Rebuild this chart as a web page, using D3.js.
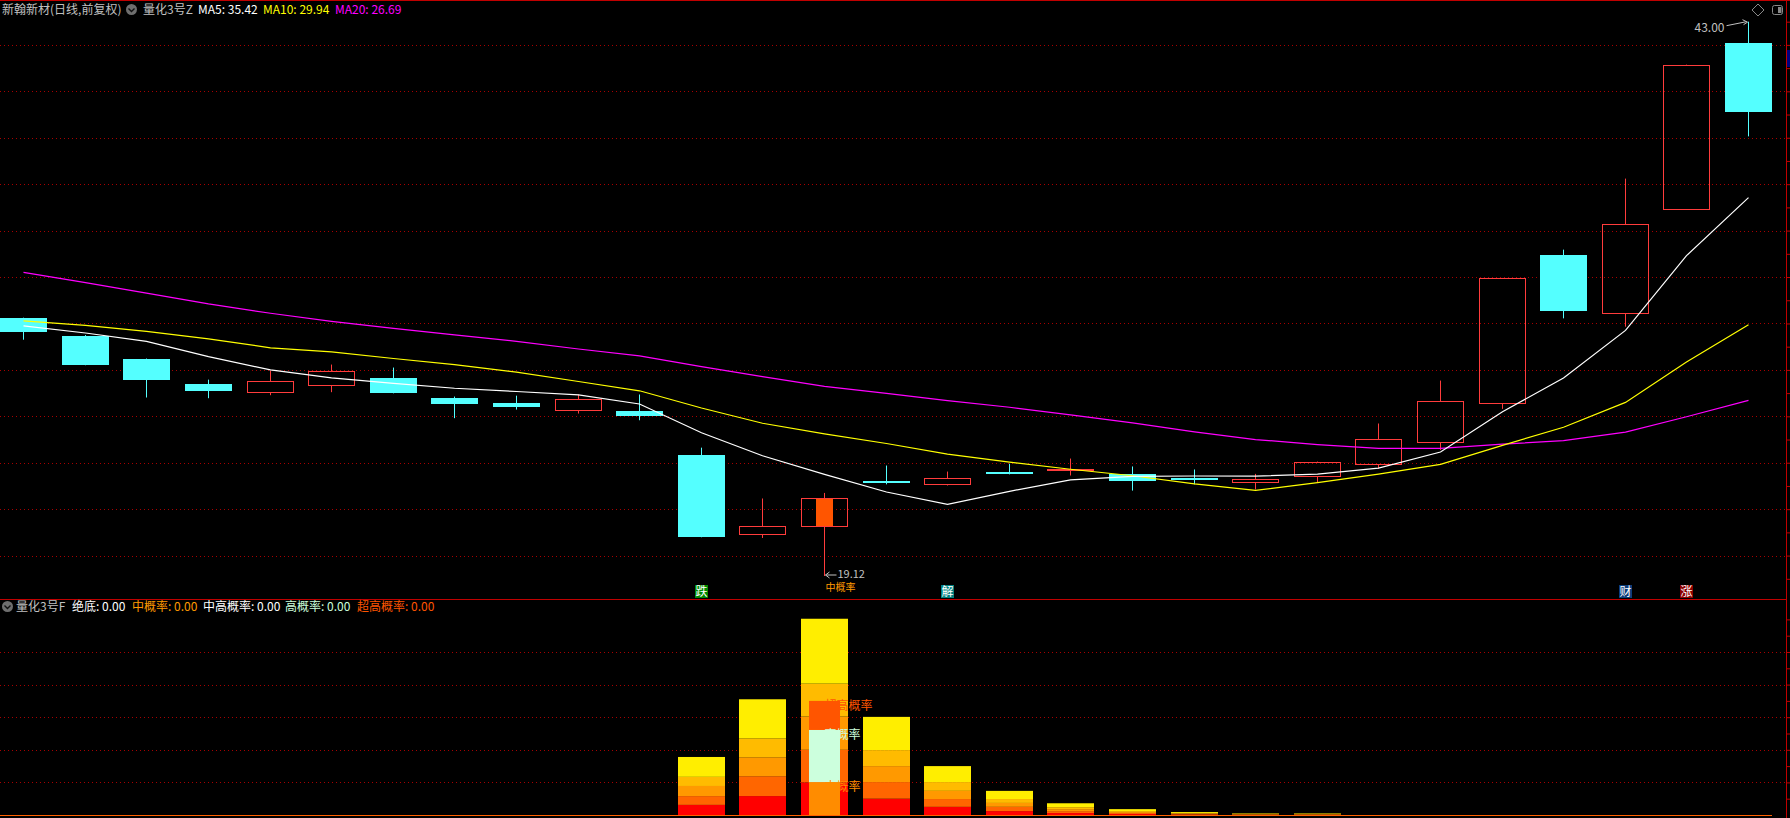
<!DOCTYPE html>
<html>
<head>
<meta charset="utf-8">
<script src="https://cdn.jsdelivr.net/npm/d3@7/dist/d3.min.js"></script>
<style>
    body {margin: 0; background: #000; overflow: hidden;}
    text {font-family: "Noto Sans CJK SC", "DejaVu Sans", sans-serif; font-size: 12px;}
</style>
</head>
<body>
<script>

// daily candles, 29 sessions
var days = d3.range(29);
var opens  = [30.25, 29.45, 28.49, 27.41, 27.04, 27.34, 27.67, 26.81, 26.59, 26.26, 26.25, 24.35, 20.94, 21.28, 23.23,
              23.07, 23.62, 23.71, 23.53, 23.36, 23.16, 23.42, 23.95, 24.89, 26.58, 32.97, 30.44, 34.92, 42.10];
var highs  = [30.25, 29.50, 28.49, 27.58, 27.97, 28.23, 28.10, 26.85, 26.89, 26.94, 26.94, 24.65, 22.46, 22.70, 23.88,
              23.62, 23.96, 24.18, 23.84, 23.71, 23.52, 24.05, 25.69, 27.54, 31.96, 33.18, 36.24, 41.15, 43.00];
var lows   = [29.30, 28.20, 26.81, 26.78, 26.91, 27.04, 26.99, 25.92, 26.29, 26.12, 25.83, 20.79, 20.76, 19.12, 23.07,
              23.02, 23.50, 23.45, 22.80, 23.07, 22.85, 23.16, 23.75, 24.55, 26.32, 30.22, 29.86, 34.92, 38.06];
var closes = [29.65, 28.20, 27.58, 27.08, 27.50, 27.96, 26.99, 26.52, 26.39, 26.76, 26.00, 20.79, 21.28, 22.49, 23.12,
              23.35, 23.59, 23.75, 23.23, 23.25, 23.28, 24.05, 25.03, 26.67, 31.96, 30.52, 34.30, 41.15, 39.09];
var hotDay = [0,0,0,0,0,0,0,0,0,0,0,0,0,1,0,0,0,0,0,0,0,0,0,0,0,0,0,0,0];

var ma5  = [29.90, 29.59, 29.23, 28.57, 28.00, 27.66, 27.42, 27.21, 27.07, 26.92, 26.53, 25.29, 24.30, 23.50, 22.74,
            22.21, 22.77, 23.26, 23.41, 23.43, 23.42, 23.51, 23.77, 24.46, 26.20, 27.65, 29.70, 32.92, 35.42];
var ma10 = [30.11, 29.92, 29.66, 29.34, 28.95, 28.78, 28.49, 28.23, 27.90, 27.50, 27.10, 26.36, 25.70, 25.24, 24.83,
            24.37, 24.03, 23.72, 23.44, 23.09, 22.81, 23.14, 23.51, 23.93, 24.75, 25.53, 26.60, 28.34, 29.94];
var ma20 = [32.20, 31.76, 31.31, 30.84, 30.44, 30.09, 29.79, 29.51, 29.23, 28.90, 28.60, 28.14, 27.71, 27.29, 26.99,
            26.68, 26.39, 26.06, 25.72, 25.33, 25.00, 24.78, 24.62, 24.62, 24.80, 24.95, 25.32, 25.98, 26.69];

var priceTicks = [20, 22, 24, 26, 28, 30, 32, 34, 36, 38, 40, 42];

var signalDay   = [11, 15, 26, 27];
var signalText  = ["跌", "解", "财", "涨"];
var signalColor = ["#008a00", "#008080", "#0b3c7a", "#8b0000"];

// lower panel: stacked probability bars
var segRed    = [0,0,0,0,0,0,0,0,0,0,0, 0.31, 0.58, 1.00, 0.50, 0.25, 0.12, 0.06, 0.03, 0.015, 0.008, 0.008, 0,0,0,0,0,0,0];
var segOrRed  = [0,0,0,0,0,0,0,0,0,0,0, 0.27, 0.61, 1.00, 0.51, 0.24, 0.13, 0.06, 0.03, 0.015, 0.008, 0.008, 0,0,0,0,0,0,0];
var segOrange = [0,0,0,0,0,0,0,0,0,0,0, 0.31, 0.58, 1.02, 0.49, 0.25, 0.12, 0.06, 0.03, 0.015, 0.008, 0.008, 0,0,0,0,0,0,0];
var segAmber  = [0,0,0,0,0,0,0,0,0,0,0, 0.28, 0.58, 1.01, 0.49, 0.27, 0.12, 0.06, 0.03, 0.015, 0.008, 0.008, 0,0,0,0,0,0,0];
var segYellow = [0,0,0,0,0,0,0,0,0,0,0, 0.61, 1.20, 1.99, 1.02, 0.49, 0.25, 0.12, 0.06, 0.030, 0.016, 0.016, 0,0,0,0,0,0,0];
var probMid   = [0,0,0,0,0,0,0,0,0,0,0,0,0, 1.01, 0,0,0,0,0,0,0,0,0,0,0,0,0,0,0];
var probHigh  = [0,0,0,0,0,0,0,0,0,0,0,0,0, 1.60, 0,0,0,0,0,0,0,0,0,0,0,0,0,0,0];
var probSuper = [0,0,0,0,0,0,0,0,0,0,0,0,0, 0.89, 0,0,0,0,0,0,0,0,0,0,0,0,0,0,0];
var lowTicks = [1, 2, 3, 4, 5];


var w = 1790;
var h = 818;
var plotRight = 1786;
var cyan = "#54ffff";
var upRed = "#ff3c3c";
var gridRed = "#a80000";
var lineRed = "#c00000";

var svg = d3.select("body")
    .append("svg")
    .attr("width", w)
    .attr("height", h)
    .style("background", "#000");

var x = d3.scaleBand()
    .domain(days)
    .range([-7.6, 1778.8]);
var bw = x.bandwidth() * 0.76;
function cx(i) { return Math.round(x(i) + x.bandwidth() / 2) + 0.5; }

var y = d3.scaleLinear()
    .domain([20, 42])
    .range([555.6, 44.9]);

var yLow = d3.scaleLinear()
    .domain([0, 5])
    .range([815, 652]);

// grid
svg.append("g").selectAll("line")
    .data(priceTicks)
    .enter().append("line")
    .attr("x1", 0).attr("x2", plotRight)
    .attr("y1", function (d) { return Math.round(y(d)) + 0.5; })
    .attr("y2", function (d) { return Math.round(y(d)) + 0.5; })
    .style("stroke", gridRed)
    .style("stroke-dasharray", "1,3");

svg.append("g").selectAll("line")
    .data(lowTicks)
    .enter().append("line")
    .attr("x1", 0).attr("x2", plotRight)
    .attr("y1", function (d) { return Math.round(yLow(d)) + 0.5; })
    .attr("y2", function (d) { return Math.round(yLow(d)) + 0.5; })
    .style("stroke", gridRed)
    .style("stroke-dasharray", "1,3");

// frame
svg.append("line").attr("x1", 0).attr("x2", w).attr("y1", 0.5).attr("y2", 0.5).style("stroke", lineRed);
svg.append("line").attr("x1", 0).attr("x2", plotRight).attr("y1", 599.5).attr("y2", 599.5).style("stroke", lineRed);
svg.append("line").attr("x1", plotRight + 0.5).attr("x2", plotRight + 0.5).attr("y1", 0).attr("y2", h).style("stroke", lineRed);

var axisR = d3.axisRight(y).tickValues(d3.range(19, 44)).tickSize(4).tickFormat("");
svg.append("g")
    .attr("transform", "translate(" + (plotRight + 0.5) + ",0)")
    .call(axisR)
    .call(function (g) { g.select(".domain").remove(); g.selectAll("line").style("stroke", lineRed); });

var axisLow = d3.axisRight(yLow).tickValues(d3.range(0.5, 6.1, 0.5)).tickSize(4).tickFormat("");
svg.append("g")
    .attr("transform", "translate(" + (plotRight + 0.5) + ",0)")
    .call(axisLow)
    .call(function (g) { g.select(".domain").remove(); g.selectAll("line").style("stroke", lineRed); });

svg.append("rect").attr("x", plotRight + 1).attr("y", 50).attr("width", 4).attr("height", 17).style("fill", "#000080");

// candles
var candle = svg.append("g").selectAll("g")
    .data(days)
    .enter().append("g");

candle.each(function (i) {
    var g = d3.select(this);
    var up = closes[i] > opens[i];
    var c = cx(i);
    var top = Math.round(y(Math.max(opens[i], closes[i])));
    var bot = Math.round(y(Math.min(opens[i], closes[i])));
    var left = Math.round(c - bw / 2);
    var col = up ? upRed : cyan;
    if (up) {
        g.append("line").attr("x1", c).attr("x2", c).attr("y1", y(highs[i])).attr("y2", top).style("stroke", col);
        g.append("line").attr("x1", c).attr("x2", c).attr("y1", bot).attr("y2", y(lows[i])).style("stroke", col);
        g.append("rect")
            .attr("x", left + 0.5).attr("y", top + 0.5)
            .attr("width", Math.round(bw) - 1).attr("height", Math.max(bot - top, 1))
            .style("fill", "none").style("stroke", col);
        if (hotDay[i]) {
            var iw = Math.round(bw * 0.36);
            g.append("rect")
                .attr("x", Math.round(c - iw / 2)).attr("y", top + 1)
                .attr("width", iw).attr("height", bot - top - 1)
                .style("fill", "#ff5500");
        }
    } else {
        g.append("line").attr("x1", c).attr("x2", c).attr("y1", y(highs[i])).attr("y2", y(lows[i])).style("stroke", col);
        g.append("rect")
            .attr("x", left).attr("y", top)
            .attr("width", Math.round(bw)).attr("height", Math.max(bot - top, 2))
            .style("fill", col);
    }
});

// moving averages
var line = function (arr) {
    return d3.line()
        .x(function (d, i) { return cx(i); })
        .y(function (d) { return y(d); })(arr);
};
svg.append("path").attr("d", line(ma20)).style("fill", "none").style("stroke", "#ff00ff").style("stroke-width", 1.2);
svg.append("path").attr("d", line(ma10)).style("fill", "none").style("stroke", "#ffff00").style("stroke-width", 1.2);
svg.append("path").attr("d", line(ma5)).style("fill", "none").style("stroke", "#ffffff").style("stroke-width", 1.2);

// high / low marks
var hiIdx = d3.maxIndex(highs), loIdx = d3.minIndex(lows);
svg.append("text")
    .attr("x", cx(hiIdx) - 24).attr("y", y(highs[hiIdx]) + 10)
    .attr("text-anchor", "end")
    .style("fill", "#c0c0c0")
    .text(highs[hiIdx].toFixed(2));
svg.append("path")
    .attr("d", "M" + (cx(hiIdx) - 22) + "," + (y(highs[hiIdx]) + 4) + "L" + (cx(hiIdx) - 2) + "," + (y(highs[hiIdx]))
        + "M" + (cx(hiIdx) - 6) + "," + (y(highs[hiIdx]) - 2) + "L" + (cx(hiIdx) - 1) + "," + (y(highs[hiIdx]) + 0.5) + "L" + (cx(hiIdx) - 5) + "," + (y(highs[hiIdx]) + 3))
    .style("fill", "none").style("stroke", "#c0c0c0");

var lowY = Math.round(y(lows[loIdx])) - 1;
svg.append("path")
    .attr("d", "M" + (cx(loIdx) + 1) + "," + lowY + "L" + (cx(loIdx) + 12) + "," + lowY
        + "M" + (cx(loIdx) + 5) + "," + (lowY - 3) + "L" + (cx(loIdx) + 1) + "," + lowY + "L" + (cx(loIdx) + 5) + "," + (lowY + 3))
    .style("fill", "none").style("stroke", "#c0c0c0");
svg.append("text")
    .attr("x", cx(loIdx) + 13).attr("y", lowY + 3)
    .style("fill", "#c0c0c0").style("font-size", "11px")
    .text(lows[loIdx].toFixed(2));
svg.append("text")
    .attr("x", cx(loIdx) + 1).attr("y", lowY + 16)
    .style("fill", "#ff9900").style("font-size", "10px")
    .text("中概率");

// signal boxes
var sig = svg.append("g").selectAll("g")
    .data(signalDay)
    .enter().append("g")
    .attr("transform", function (d) { return "translate(" + (cx(d) - 6.5) + ",585)"; });
sig.append("rect")
    .attr("width", 13).attr("height", 13)
    .style("fill", function (d, i) { return signalColor[i]; });
sig.append("text")
    .attr("x", 6.5).attr("y", 11)
    .attr("text-anchor", "middle")
    .style("fill", "#fff")
    .text(function (d, i) { return signalText[i]; });

// lower panel stacked bars
var stackData = days.map(function (i) {
    return {red: segRed[i], orRed: segOrRed[i], orange: segOrange[i], amber: segAmber[i], yellow: segYellow[i]};
});
var segKeys = ["red", "orRed", "orange", "amber", "yellow"];
var segColor = d3.scaleOrdinal().domain(segKeys).range(["#ff0000", "#ff6600", "#ff9900", "#ffbb00", "#ffee00"]);
var series = d3.stack().keys(segKeys)(stackData);

svg.append("line").attr("x1", 0).attr("x2", 1772).attr("y1", 815.5).attr("y2", 815.5).style("stroke", "#ff6000");

svg.append("g").selectAll("g")
    .data(series)
    .enter().append("g")
    .style("fill", function (d) { return segColor(d.key); })
    .selectAll("rect")
    .data(function (d) { return d; })
    .enter().append("rect")
    .attr("x", function (d, i) { return Math.round(cx(i) - bw / 2); })
    .attr("width", Math.round(bw))
    .attr("y", function (d) { return yLow(d[1]); })
    .attr("height", function (d) { return Math.max(0, yLow(d[0]) - yLow(d[1])); });

var probData = days.map(function (i) { return {mid: probMid[i], high: probHigh[i], sup: probSuper[i]}; });
var probKeys = ["mid", "high", "sup"];
var probColor = d3.scaleOrdinal().domain(probKeys).range(["#ff8c00", "#ccffdd", "#ff5500"]);
var probLabel = {mid: "中概率", high: "高概率", sup: "超高概率"};
var probSeries = d3.stack().keys(probKeys)(probData);
var pw = Math.round(bw * 0.66);

probSeries.forEach(function (s) {
    s.forEach(function (d, i) {
        if (d[1] > d[0]) {
            svg.append("rect")
                .attr("x", Math.round(cx(i) - pw / 2))
                .attr("width", pw)
                .attr("y", yLow(d[1]))
                .attr("height", yLow(d[0]) - yLow(d[1]))
                .style("fill", probColor(s.key));
        }
    });
});
probSeries.forEach(function (s) {
    s.forEach(function (d, i) {
        if (d[1] > d[0]) {
            svg.append("text")
                .attr("x", cx(i)).attr("y", yLow(d[1]) + 9)
                .style("fill", probColor(s.key))
                .text(probLabel[s.key]);
        }
    });
});

// headers
function header(items, yy) {
    items.forEach(function (t) {
        svg.append("text").attr("x", t[0]).attr("y", yy).style("fill", t[2]).text(t[1]);
    });
}
function knob(xx, yy) {
    svg.append("circle").attr("cx", xx).attr("cy", yy).attr("r", 5.5).style("fill", "#6e6e6e");
    svg.append("path").attr("d", "M" + (xx - 3) + "," + (yy - 1) + "L" + xx + "," + (yy + 2) + "L" + (xx + 3) + "," + (yy - 1))
        .style("fill", "none").style("stroke", "#111").style("stroke-width", 1.4);
}
header([[2, "新翰新材(日线,前复权)", "#c0c0c0"], [143, "量化3号Z", "#c0c0c0"],
        [198, "MA5: " + ma5[28].toFixed(2), "#ffffff"], [263, "MA10: " + ma10[28].toFixed(2), "#ffff00"],
        [335, "MA20: " + ma20[28].toFixed(2), "#ff00ff"]], 14);
knob(131.5, 9.5);

header([[16, "量化3号F", "#c0c0c0"], [72, "绝底: 0.00", "#ffffff"], [132, "中概率: 0.00", "#ff9900"],
        [203, "中高概率: 0.00", "#ffffff"], [285, "高概率: 0.00", "#ccffdd"], [357, "超高概率: 0.00", "#ff5500"]], 611);
knob(7.5, 606.5);

// corner icons
svg.append("path").attr("d", "M1758,4L1764,10L1758,16L1752,10Z").style("fill", "none").style("stroke", "#888");
svg.append("rect").attr("x", 1772.5).attr("y", 5.5).attr("width", 10).attr("height", 9).attr("rx", 2)
    .style("fill", "none").style("stroke", "#888");
svg.append("rect").attr("x", 1778).attr("y", 7).attr("width", 3.5).attr("height", 6).style("fill", "#888");

</script>
</body>
</html>
